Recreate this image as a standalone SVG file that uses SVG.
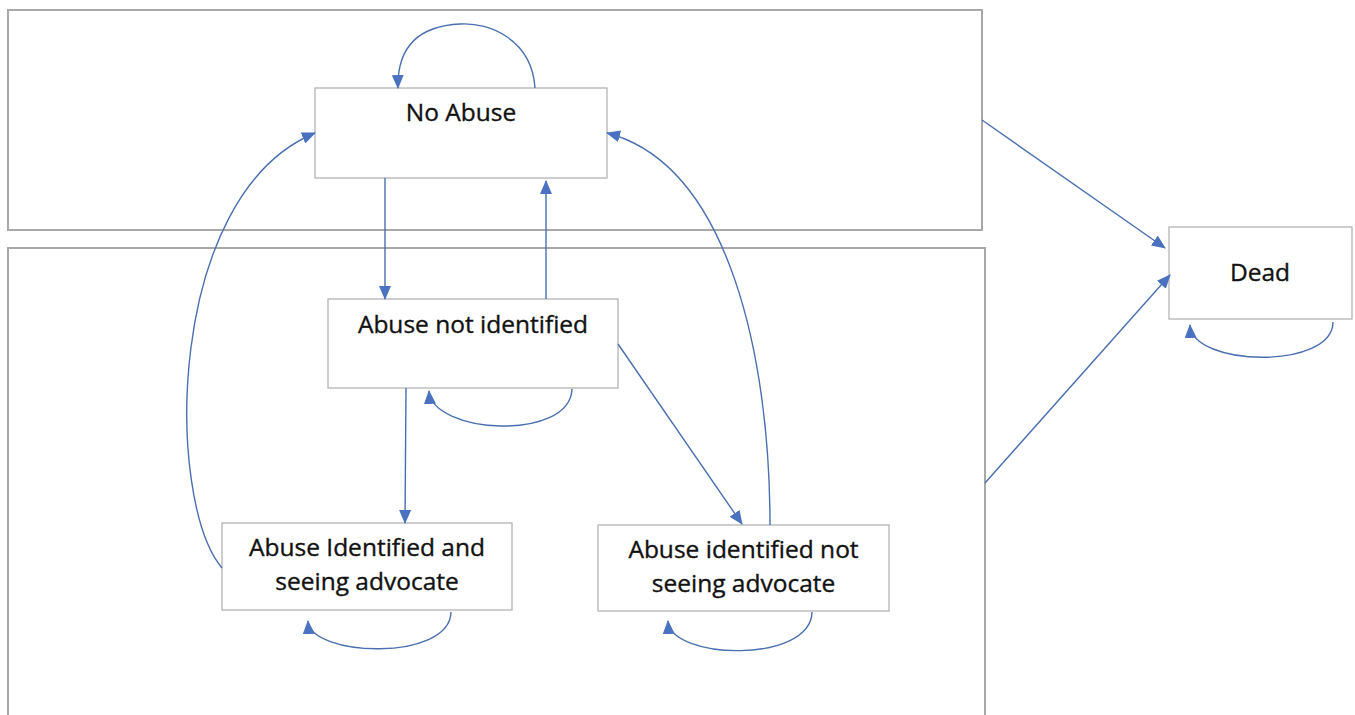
<svg xmlns="http://www.w3.org/2000/svg" width="1355" height="715" viewBox="0 0 1355 715">
<style>
.bg{fill:#ffffff}
.container{fill:none;stroke:#a8a8a8;stroke-width:2}
.node rect{fill:#ffffff;stroke:#b4b4b4;stroke-width:1.3}
.node text{font-family:"Open Sans","Liberation Sans",sans-serif;font-size:24.5px;fill:#111111;stroke:#111111;stroke-width:0.35;text-anchor:middle}
.edge{fill:none;stroke:#4a6fb0;stroke-width:1.4;marker-end:url(#arrow)}
</style>
<defs>
<marker id="arrow" markerUnits="userSpaceOnUse" markerWidth="14" markerHeight="12" viewBox="0 0 14 12" refX="13" refY="6" orient="auto">
<path d="M0,0 L14,6 L0,12 Z" fill="#4a72c0"/>
</marker>
</defs>
<rect class="bg" x="0" y="0" width="1355" height="715"/>
<g id="containers">
<rect class="container" x="8" y="10" width="974" height="220"/>
<rect class="container" x="8" y="248" width="977" height="480"/>
</g>
<g id="node-no-abuse" class="node">
<rect x="315" y="88" width="292" height="90"/>
<text x="461" y="121">No Abuse</text>
</g>
<g id="node-abuse-not-identified" class="node">
<rect x="328" y="299" width="290" height="89"/>
<text x="473" y="333">Abuse not identified</text>
</g>
<g id="node-identified-seeing" class="node">
<rect x="222" y="523" width="290" height="87"/>
<text x="367" y="556">Abuse Identified and</text>
<text x="367" y="590">seeing advocate</text>
</g>
<g id="node-identified-not-seeing" class="node">
<rect x="598" y="525" width="291" height="86"/>
<text x="743.5" y="558">Abuse identified not</text>
<text x="743.5" y="592">seeing advocate</text>
</g>
<g id="node-dead" class="node">
<rect x="1169" y="227" width="183" height="92"/>
<text x="1260" y="281">Dead</text>
</g>
<g id="connectors">
<path class="edge" d="M535,88 C532,40 490,22 460,24 C420,26 397,45 398,88"/>
<path class="edge" d="M385,178 L385,299"/>
<path class="edge" d="M546,299 L546,181"/>
<path class="edge" d="M572,389 C570,442 432,434 429,391"/>
<path class="edge" d="M406,388 L405,523"/>
<path class="edge" d="M618,344 L742,524"/>
<path class="edge" d="M770,525 C770,360 730,165 607,133"/>
<path class="edge" d="M222,568 C165,500 165,195 315,133"/>
<path class="edge" d="M451,612 C450,662 310,657 308,621"/>
<path class="edge" d="M812,612 C811,664 670,660 668,621"/>
<path class="edge" d="M982,120 L1165,248"/>
<path class="edge" d="M985,483 L1170,275"/>
<path class="edge" d="M1333,322 C1333,370 1192,367 1190,325"/>
</g>
</svg>
